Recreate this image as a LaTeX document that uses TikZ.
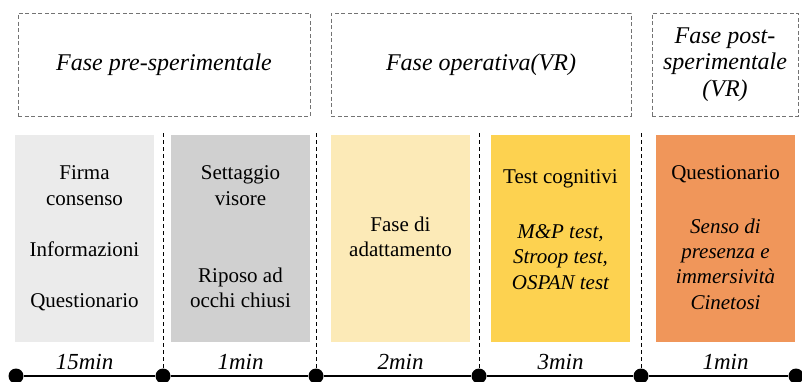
\documentclass[tikz,border=0pt]{standalone}
\usepackage{fontspec}
\setmainfont{Liberation Serif}
\definecolor{preA}{RGB}{235,235,235}
\definecolor{preB}{RGB}{208,208,208}
\definecolor{opA}{RGB}{252,234,183}
\definecolor{opB}{RGB}{253,210,80}
\definecolor{post}{RGB}{240,150,90}
\begin{document}
\begin{tikzpicture}
        [x=1pt, y=-1pt,
        fase/.style={draw=black!55, dash pattern=on 4pt off 2.5pt, line width=0.7pt, minimum height=103pt, font=\fontsize{24}{26.5}\selectfont\itshape, align=center, inner sep=0pt},
        box/.style={minimum width=139pt, minimum height=207pt, inner sep=0pt},
        txt/.style={font=\fontsize{21}{25.3}\selectfont, align=center, inner sep=0pt},
        note/.style={txt, font=\fontsize{21}{25.3}\selectfont\itshape},
        durata/.style={font=\fontsize{23}{25}\selectfont\itshape, inner sep=0pt},
        dot/.style={circle, fill=black, minimum size=15pt, inner sep=0pt},
        timeline/.style={black, line width=1.6pt},
        sep/.style={black, dash pattern=on 4pt off 3pt, line width=0.8pt}]

        \useasboundingbox (0,0) rectangle (802,381);

        % Phase headers (dashed boxes)
        \node[fase, minimum width=292pt] (fase1) at (164,64.5) {Fase pre-sperimentale};
        \node[fase, minimum width=300pt] (fase2) at (481,64.5) {Fase operativa(VR)};
        \node[fase, minimum width=146pt] (fase3) at (725,64.5) {Fase post-\\sperimentale\\(VR)};

        % Coloured blocks
        \node[box, fill=preA] (b1) at (84.5,238.5) {};
        \node[box, fill=preB] (b2) at (240.5,238.5) {};
        \node[box, fill=opA] (b3) at (400.5,238.5) {};
        \node[box, fill=opB] (b4) at (560.5,238.5) {};
        \node[box, fill=post] (b5) at (725.5,238.5) {};

        % Texts inside the blocks
        \node[txt] (firma) at (84.5,185.5) {Firma\\consenso};
        \node[txt] (info) at (84.5,249) {Informazioni};
        \node[txt] (quest1) at (84.5,302) {Questionario};

        \node[txt] (visore) at (240.5,185.5) {Settaggio\\visore};
        \node[txt] (riposo) at (240.5,288) {Riposo ad\\occhi chiusi};

        \node[txt] (adatt) at (400.5,237) {Fase di\\adattamento};

        \node[txt] (cogn) at (560.5,179) {Test cognitivi};
        \node[note] (tests) at (560.5,257) {M\&P test,\\Stroop test,\\OSPAN test};

        \node[txt] (quest2) at (725.5,174) {Questionario};
        \node[note] (senso) at (725.5,264) {Senso di\\presenza e\\immersività\\Cinetosi};

        % Durations
        \node[durata] (d1) at (84.5,362) {15min};
        \node[durata] (d2) at (240.5,362) {1min};
        \node[durata] (d3) at (400.5,362) {2min};
        \node[durata] (d4) at (560.5,362) {3min};
        \node[durata] (d5) at (725.5,362) {1min};

        % Timeline dots
        \node[dot] (t0) at (16,376) {};
        \node[dot] (t1) at (163,376) {};
        \node[dot] (t2) at (316,376) {};
        \node[dot] (t3) at (479,376) {};
        \node[dot] (t4) at (641,376) {};
        \node[dot] (t5) at (796,376) {};

        \draw[timeline] (t0) -- (t1) -- (t2) -- (t3) -- (t4) -- (t5);

        % Top ends of the separators
        \coordinate (v1) at (163,133);
        \coordinate (v2) at (316,133);
        \coordinate (v3) at (479,133);
        \coordinate (v4) at (641,133);

        \draw[sep] (v1) -- (t1);
        \draw[sep] (v2) -- (t2);
        \draw[sep] (v3) -- (t3);
        \draw[sep] (v4) -- (t4);
    \end{tikzpicture}
\end{document}
